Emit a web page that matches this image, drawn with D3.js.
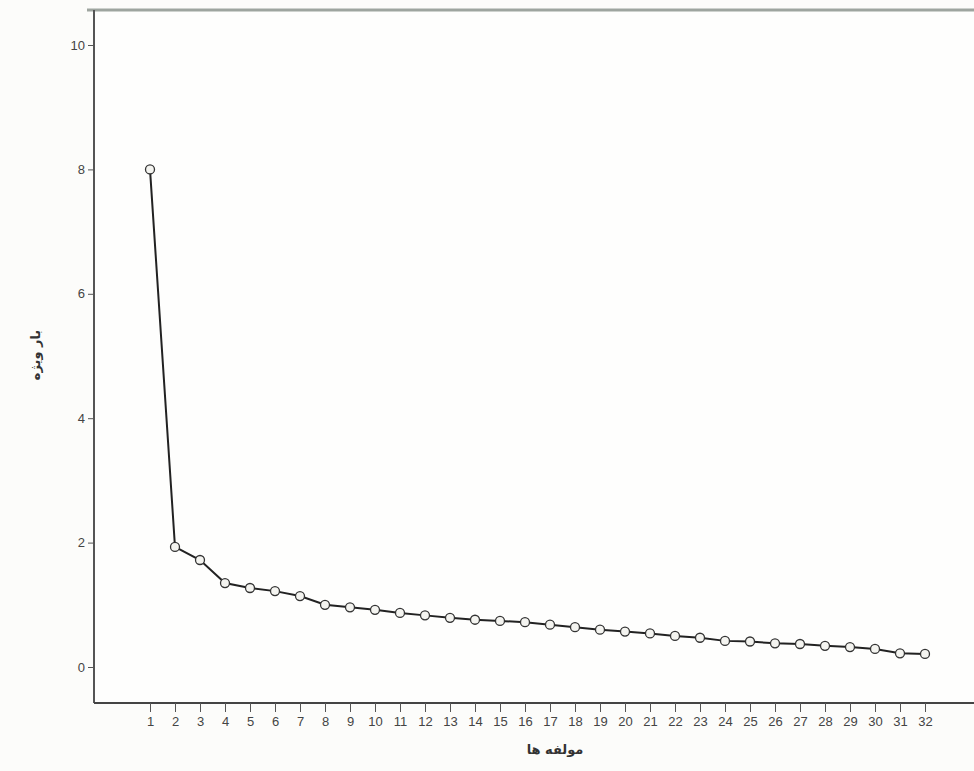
<!DOCTYPE html>
<html><head><meta charset="utf-8">
<script src="https://cdn.jsdelivr.net/npm/d3@7"></script>
<style>body{margin:0;background:#fcfcfa;}svg{display:block;}</style>
</head><body><svg id="c" width="974" height="771"></svg>
<script>
const components = d3.range(1, 33);
const eigenvalues = [8.00,1.93,1.72,1.35,1.27,1.22,1.14,1.00,0.96,0.92,0.87,0.83,0.79,0.76,0.74,0.72,0.68,0.64,0.60,0.57,0.54,0.50,0.47,0.42,0.41,0.38,0.37,0.34,0.32,0.29,0.22,0.21];
const yTicks = [0,2,4,6,8,10];
const xTitle = "مولفه ها";
const yTitle = "بار ویژه";

(function(){
const svg = d3.select("#c");
const mL = 94, mR = 974, mT = 10, mB = 703;
const x = d3.scaleLinear().domain([1,32]).range([150,925]);
const y = d3.scaleLinear().domain([0,10]).range([667,45]);

svg.append("rect").attr("x",mL).attr("y",mT).attr("width",mR-mL).attr("height",mB-mT).attr("fill","#fefefd");
svg.append("line").attr("x1",87).attr("x2",974).attr("y1",mT).attr("y2",mT).attr("stroke","#9ea59f").attr("stroke-width",3);

const ya = svg.append("g").attr("transform",`translate(${mL},0)`)
  .call(d3.axisLeft(y).tickValues(yTicks).tickSize(6).tickPadding(3));
ya.select(".domain").attr("d",`M0,${mT}V${mB}`).attr("stroke","#555").attr("stroke-width",2);
ya.selectAll(".tick line").attr("stroke","#555");
ya.selectAll("text").attr("font-family","Arial, Liberation Sans").attr("font-size",13).attr("fill","#444");

const xa = svg.append("g").attr("transform",`translate(0,${mB})`)
  .call(d3.axisBottom(x).tickValues(components).tickFormat(d3.format("d")).tickSize(9).tickPadding(5));
xa.select(".domain").attr("d",`M${mL},0H${mR}`).attr("stroke","#444").attr("stroke-width",2);
xa.selectAll(".tick line").attr("stroke","#555");
xa.selectAll("text").attr("font-family","Arial, Liberation Sans").attr("font-size",13).attr("fill","#444");

const pts = components.map((c,i)=>[c,eigenvalues[i]]);
svg.append("path").datum(pts)
  .attr("d", d3.line().x(d=>x(d[0])).y(d=>y(d[1])))
  .attr("fill","none").attr("stroke","#222").attr("stroke-width",2);
svg.selectAll("circle.pt").data(pts).join("circle").attr("class","pt")
  .attr("cx",d=>x(d[0])).attr("cy",d=>y(d[1])).attr("r",4.5)
  .attr("fill","#f4f4f0").attr("stroke","#333").attr("stroke-width",1.3);

svg.append("text").attr("x",555).attr("y",754).attr("text-anchor","middle")
  .attr("font-family","DejaVu Sans").attr("font-size",13).attr("font-weight","bold").attr("fill","#333").text(xTitle);
svg.append("text").attr("transform","translate(40,355) rotate(-90)").attr("text-anchor","middle")
  .attr("font-family","DejaVu Sans").attr("font-size",13).attr("font-weight","bold").attr("fill","#333").text(yTitle);
})();
</script></body></html>
